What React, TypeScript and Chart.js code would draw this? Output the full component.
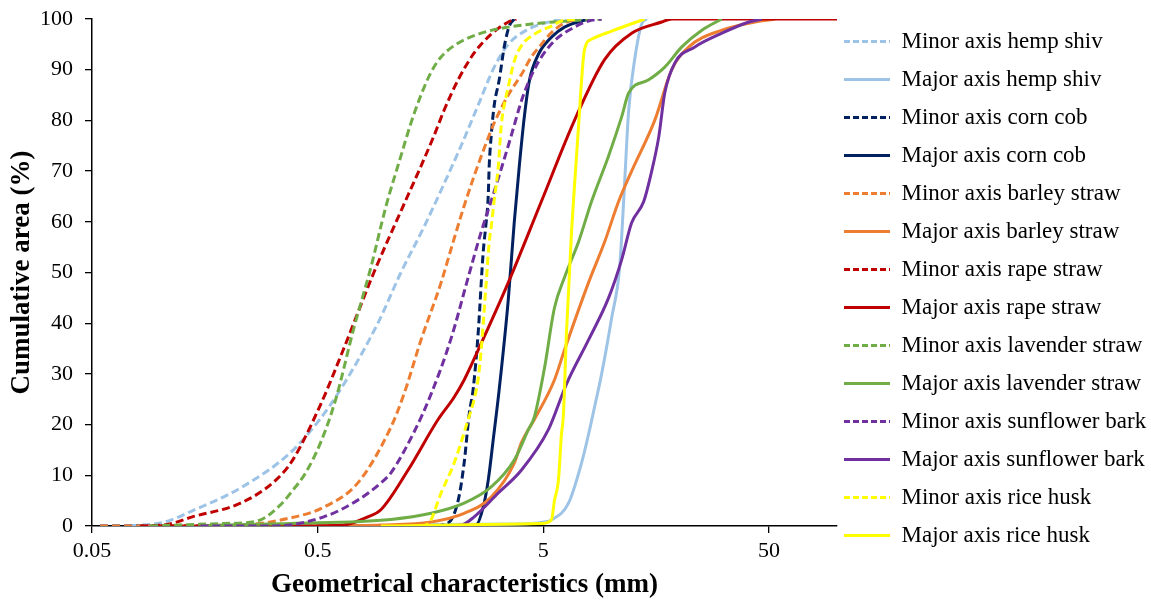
import React, { useEffect, useRef } from 'react';
import { Chart, registerables } from 'chart.js';

Chart.register(...registerables);

// ---- data (x: geometrical characteristic in mm, y: cumulative area in %) ----
const hempMinorX = [0.0738, 0.1055, 0.1391, 0.2274, 0.3793, 0.5, 0.6327, 0.9239, 1.169, 1.4795, 1.8154, 2.1602, 2.5703, 3.028, 3.4945, 4.2885, 4.8985, 6.0115];
const hempMinorY = [0, 0.8, 3, 7.5, 14.5, 20.5, 27, 40, 50, 59, 67.5, 75, 83, 90.5, 95, 98, 99, 100];

const hempMajorX = [1.169, 1.761, 4.422, 5.05, 5.427, 6.46, 7.377, 7.92, 8.43, 9.06, 10.03, 10.89, 11.34, 11.94, 12.69, 13.64, 14.35];
const hempMajorY = [0, 0.3, 0.5, 0.8, 1.2, 4.5, 12.4, 18, 23.5, 30, 41, 51, 64, 82, 92, 99, 100];

const cornMinorX = [0.0543, 1.589, 1.891, 2.095, 2.2275, 2.345, 2.443, 2.57, 2.706, 2.79, 2.848, 2.877, 2.937, 3.028, 3.187, 3.354, 3.53, 3.716];
const cornMinorY = [0, 0, 0.6, 5, 12.4, 22, 27, 38, 54, 60, 65, 71, 77, 83, 88, 94.5, 98.6, 100];

const cornMajorX = [2.16, 2.519, 2.706, 2.848, 2.997, 3.187, 3.4945, 3.716, 3.911, 4.1165, 4.3325, 4.7505, 5.427, 6.199, 7.377, 8.17];
const cornMajorY = [0, 0.2, 3.7, 9, 17, 27, 44.6, 60, 71, 80.7, 87.8, 93, 96.4, 98.4, 99.6, 100];

const barleyMinorX = [0.0543, 0.2274, 0.3793, 0.5317, 0.7529, 1.0554, 1.2055, 1.4348, 1.7606, 1.9905, 2.205, 2.4426, 2.7337, 3.028, 3.4945, 3.992, 4.422, 4.8985, 5.427, 6.199, 7.1535];
const barleyMinorY = [0, 0.2, 1.6, 3.7, 8.5, 19.5, 26, 36.7, 48, 56, 62.5, 68.5, 74.5, 79.5, 85, 89, 92.5, 95, 97.3, 99.2, 100];

const barleyMajorX = [0.4201, 0.9528, 1.5894, 2.2275, 2.9367, 3.716, 3.992, 4.56, 5.596, 6.199, 7.9245, 9.335, 10.77, 12.305, 15.57, 18.53, 22.05, 30.9, 43.33, 53.16];
const barleyMajorY = [0, 0.2, 0.8, 2.5, 5.7, 12.4, 16.4, 21, 28.8, 34.7, 48, 56, 64, 70, 80, 90, 94.5, 97.8, 99.4, 100];

const rapeMinorX = [0.0817, 0.1077, 0.1391, 0.2274, 0.3254, 0.3871, 0.5156, 0.6524, 0.8871, 1.1933, 1.4348, 1.6389, 1.8154, 2.095, 2.4677, 2.9367, 3.4945, 3.793];
const rapeMinorY = [0, 0.3, 1.8, 4.5, 9, 13, 24, 35, 50, 63, 71, 77, 82, 88, 93.3, 97, 99.4, 100];

const rapeMajorX = [0.1003, 0.4201, 0.6524, 0.834, 0.9528, 1.256, 1.7074, 2.011, 2.2275, 2.6505, 3.4945, 4.8985, 6.867, 9.335, 12.305, 16.725, 18.53, 100];
const rapeMajorY = [0, 0, 0.2, 1.8, 3.2, 11, 21, 25.4, 28.8, 36, 48, 64, 80, 92, 97.2, 99.4, 100, 100];

const lavenderMinorX = [0.0905, 0.1911, 0.2706, 0.339, 0.3871, 0.4422, 0.5156, 0.6011, 0.7227, 0.8602, 1.0027, 1.1692, 1.295, 1.4348, 1.5894, 1.7606, 2.0525, 2.6505, 3.4945, 4.8985, 6.867, 9.055];
const lavenderMinorY = [0, 0.5, 1, 4, 7, 10.5, 16.5, 25, 39, 51, 63, 73, 79.5, 85, 89.5, 92.5, 95, 97.2, 98.4, 99.2, 99.7, 100];

const lavenderMajorX = [0.151, 0.1911, 0.3793, 1.0554, 1.5894, 2.2275, 2.9367, 3.716, 4.2885, 4.56, 5.05, 5.596, 6.199, 7.1535, 8.1715, 9.725, 11.11, 11.935, 14.645, 17.25, 20.525, 25.19, 30.9];
const lavenderMajorY = [0, 0.2, 0.5, 1.3, 2.5, 4.5, 7.7, 13, 19, 21.5, 31, 43, 49, 56, 64, 73, 80.7, 85.4, 88, 90.5, 94.5, 97.8, 100];

const sunflowerMinorX = [0.151, 0.3188, 0.5317, 0.7529, 0.9528, 1.0554, 1.3354, 1.5894, 1.9502, 2.3208, 2.6505, 3.028, 3.6035, 3.911, 4.1165, 4.7505, 5.596, 6.867, 7.9245, 9.055];
const sunflowerMinorY = [0, 0, 1.8, 5.1, 8.5, 10.5, 18.5, 26, 37, 49, 58, 66, 77, 82.5, 85.5, 91.5, 95.7, 98.4, 99.6, 100];

const sunflowerMajorX = [1.5894, 2.1602, 2.4677, 3.1548, 3.992, 5.2625, 6.327, 7.9245, 9.725, 11.11, 12.305, 13.915, 15.1, 16.22, 17.25, 19.105, 23.45, 30.9, 40.75, 46.54];
const sunflowerMajorY = [0, 0.2, 1.8, 6.5, 11, 19, 28, 36.7, 45, 52.5, 59.8, 64, 70, 76.7, 85.4, 91.3, 94.5, 97.2, 99.4, 100];

const riceMinorX = [1.4348, 1.5572, 1.7606, 2.011, 2.3208, 2.4677, 2.5703, 2.6505, 2.7902, 2.8772, 2.9367, 3.028, 3.1548, 3.2532, 3.3545, 3.4945, 3.716, 3.992, 4.56, 5.427, 6.0115, 7.01];
const riceMinorY = [0, 0.6, 6.5, 12.4, 21, 25, 29, 34.7, 48, 56, 59, 64.3, 70.8, 79, 83, 86.6, 91.7, 94.7, 97, 98.6, 99.6, 100];

const riceMajorX = [0.9528, 4.8985, 5.427, 5.596, 5.8295, 6.0115, 6.136, 6.327, 6.659, 6.797, 7.1535, 7.607, 8.1715, 10.03, 14.05];
const riceMajorY = [0, 0.5, 1.2, 5, 9, 18, 22, 38, 57.8, 64, 78.7, 94, 96, 97.6, 100];

const seriesLabels = [
  'Minor axis hemp shiv', 'Major axis hemp shiv',
  'Minor axis corn cob', 'Major axis corn cob',
  'Minor axis barley straw', 'Major axis barley straw',
  'Minor axis rape straw', 'Major axis rape straw',
  'Minor axis lavender straw', 'Major axis lavender straw',
  'Minor axis sunflower bark', 'Major axis sunflower bark',
  'Minor axis rice husk', 'Major axis rice husk',
];
const seriesColors = ['#9DC3E6', '#9DC3E6', '#002060', '#002060', '#ED7D31', '#ED7D31', '#C00000', '#C00000', '#70AD47', '#70AD47', '#7030A0', '#7030A0', '#FFFF00', '#FFFF00'];
const seriesX = [hempMinorX, hempMajorX, cornMinorX, cornMajorX, barleyMinorX, barleyMajorX, rapeMinorX, rapeMajorX, lavenderMinorX, lavenderMajorX, sunflowerMinorX, sunflowerMajorX, riceMinorX, riceMajorX];
const seriesY = [hempMinorY, hempMajorY, cornMinorY, cornMajorY, barleyMinorY, barleyMajorY, rapeMinorY, rapeMajorY, lavenderMinorY, lavenderMajorY, sunflowerMinorY, sunflowerMajorY, riceMinorY, riceMajorY];

const xTickValues = [0.05, 0.5, 5, 50];
const xMin = 0.05;
const xMax = 100;
const yMin = 0;
const yMax = 100;
const yStep = 10;

const FONT = "'Liberation Serif', 'Times New Roman', serif";

const legendNudge = {
  id: 'legendNudge',
  afterLayout(chart: any) {
    const lg = chart.legend;
    if (lg) {
      lg.left -= 8;
      lg.top -= 4;
      lg.bottom -= 4;
    }
  },
};

export default function App() {
  const ref = useRef<HTMLCanvasElement | null>(null);

  useEffect(() => {
    if (!ref.current) return;
    const datasets = seriesLabels.map((label, i) => ({
      label,
      data: seriesX[i].map((x, j) => ({ x, y: seriesY[i][j] })),
      borderColor: seriesColors[i],
      backgroundColor: seriesColors[i],
      borderWidth: 3,
      borderDash: i % 2 === 0 ? [8, 4] : [],
      pointRadius: 0,
      pointHoverRadius: 0,
      showLine: true,
      fill: false,
      cubicInterpolationMode: 'monotone' as const,
      order: seriesLabels.length - i,
    }));

    const defaultLabels = (Chart.defaults as any).plugins.legend.labels.generateLabels;

    const chart = new Chart(ref.current, {
      type: 'scatter',
      data: { datasets },
      plugins: [legendNudge],
      options: {
        animation: false,
        responsive: false,
        devicePixelRatio: 1,
        layout: { padding: { top: 19, right: 0, bottom: 0, left: 0 } },
        plugins: {
          tooltip: { enabled: false },
          legend: {
            position: 'right',
            align: 'start',
            maxWidth: 314,
            labels: {
              usePointStyle: true,
              pointStyle: 'line',
              pointStyleWidth: 46,
              boxWidth: 46,
              padding: 15,
              color: '#000',
              font: { family: FONT, size: 23 },
              sort: (a: any, b: any) => a.datasetIndex - b.datasetIndex,
              generateLabels: (c: any) => {
                const items = defaultLabels(c);
                return items.map((it: any) => {
                  const ds = c.data.datasets[it.datasetIndex];
                  return {
                    ...it,
                    lineDash: ds.borderDash && ds.borderDash.length ? [6, 3] : [],
                    strokeStyle: ds.borderColor,
                    fillStyle: ds.borderColor,
                    lineWidth: 3,
                  };
                });
              },
            },
          },
        },
        scales: {
          x: {
            type: 'logarithmic',
            min: xMin,
            max: xMax,
            afterBuildTicks: (s: any) => {
              s.ticks = xTickValues.map((v) => ({ value: v }));
            },
            afterFit: (s: any) => {
              s.height = 75;
            },
            ticks: {
              autoSkip: false,
              maxRotation: 0,
              padding: 5,
              color: '#000',
              font: { family: FONT, size: 22 },
              callback: (v: any) => String(v),
            },
            grid: { drawOnChartArea: false, drawTicks: true, tickLength: 7, color: '#000', lineWidth: 1.3 },
            border: { display: true, color: '#000', width: 1.5 },
            title: {
              display: true,
              text: 'Geometrical characteristics (mm)',
              color: '#000',
              font: { family: FONT, size: 27, weight: 'bold' },
              padding: { top: 0, bottom: 0 },
            },
          },
          y: {
            type: 'linear',
            min: yMin,
            max: yMax,
            afterFit: (s: any) => {
              s.width = 92;
              s.paddingTop = 0;
              s.paddingBottom = 0;
            },
            ticks: {
              stepSize: yStep,
              padding: 12,
              color: '#000',
              font: { family: FONT, size: 22 },
            },
            grid: { drawOnChartArea: false, drawTicks: true, tickLength: 7, color: '#000', lineWidth: 1.3 },
            border: { display: true, color: '#000', width: 1.5 },
            title: {
              display: true,
              text: 'Cumulative area (%)',
              color: '#000',
              font: { family: FONT, size: 27, weight: 'bold' },
              padding: { top: 6, bottom: 0 },
            },
          },
        },
      },
    });
    return () => chart.destroy();
  }, []);

  return (
    <div style={{ position: 'fixed', left: 0, top: 0, width: 1151, height: 601, background: '#fff' }}>
      <canvas ref={ref} width={1151} height={601} />
    </div>
  );
}
